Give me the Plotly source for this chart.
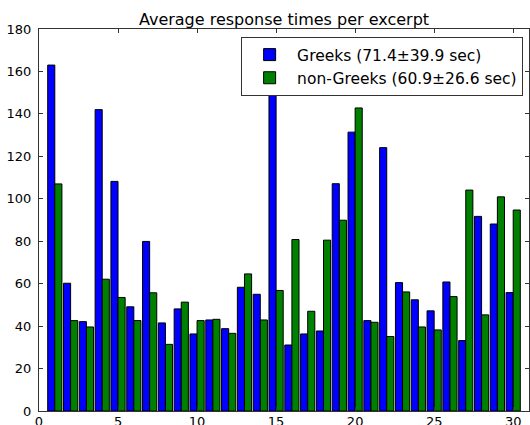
import plotly.graph_objects as go

excerpts = list(range(1, 31))
greeks = [163, 60.2, 42.1, 142, 108.2, 49.1, 79.9, 41.5, 48.1, 36.3,
          42.9, 38.8, 58.3, 55.0, 173, 31.1, 36.3, 37.7, 107.1, 131.4,
          42.6, 124.1, 60.5, 52.4, 47.2, 60.8, 33.2, 91.7, 88.1, 55.8]
non_greeks = [107, 42.6, 39.6, 62.1, 53.5, 42.6, 55.7, 31.4, 51.3, 42.6,
              43.2, 36.6, 64.6, 42.9, 56.8, 80.8, 47.0, 80.5, 89.9, 142.8,
              41.8, 35.1, 56.1, 39.6, 38.2, 53.9, 104.1, 45.3, 100.9, 94.7]
names = ["Greeks (71.4\u00b139.9 sec)", "non-Greeks (60.9\u00b126.6 sec)"]
x_ticks = [0, 5, 10, 15, 20, 25, 30]
y_ticks = [0, 20, 40, 60, 80, 100, 120, 140, 160, 180]

font = "DejaVu Sans, Liberation Sans, sans-serif"

fig = go.Figure()
fig.add_trace(go.Bar(x=excerpts, y=greeks, name=names[0],
                     marker=dict(color="#0000ff", line=dict(color="black", width=1))))
fig.add_trace(go.Bar(x=excerpts, y=non_greeks, name=names[1],
                     marker=dict(color="#008000", line=dict(color="black", width=1))))

axis_common = dict(showgrid=False, zeroline=False, showline=True, linecolor="#333333",
                   linewidth=1, mirror="ticks", ticks="inside", ticklen=4, automargin=False,
                   tickcolor="#333333", tickfont=dict(family=font, size=13, color="black"))

fig.update_layout(
    width=530, height=425,
    margin=dict(l=39, r=1, t=29, b=14, pad=0),
    paper_bgcolor="white", plot_bgcolor="white",
    barmode="group", bargap=0.1, bargroupgap=0,
    font=dict(family=font, size=13, color="black"),
    title=dict(text="Average response times per excerpt", x=0.5, xref="paper",
               xanchor="center", y=1, yref="paper", yanchor="bottom",
               pad=dict(b=4), font=dict(family=font, size=16, color="black")),
    legend=dict(x=0.988, y=0.979, xanchor="right", yanchor="top",
                bordercolor="#333333", borderwidth=1, bgcolor="white",
                font=dict(family=font, size=15.5, color="black"),
                itemwidth=45, tracegroupgap=2),
    showlegend=True,
)
fig.update_xaxes(range=[0, 31], tickvals=x_ticks, ticklabelstandoff=-2, **axis_common)
fig.update_yaxes(range=[0, 180], tickvals=y_ticks, ticklabelstandoff=4, **axis_common)

fig.write_html("out.html", config={"displayModeBar": False},
               post_script="document.body.style.margin='0';document.body.style.padding='0';")
